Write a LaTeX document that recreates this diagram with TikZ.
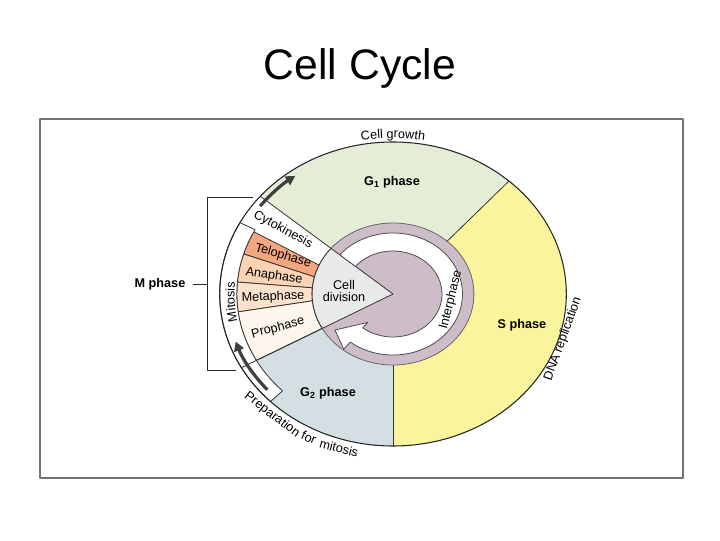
\documentclass[tikz,border=0pt]{standalone}
\usepackage{fontspec}
\setmainfont{Liberation Sans}
\usetikzlibrary{arrows.meta,decorations.text}
\definecolor{gone}{HTML}{E4EDD6}
\definecolor{sph}{HTML}{FAF59C}
\definecolor{gtwo}{HTML}{D3DFE2}
\definecolor{purp}{HTML}{CDBDC8}
\definecolor{wedgec}{HTML}{E8EAE9}
\definecolor{telo}{HTML}{F4A77F}
\definecolor{ana}{HTML}{FBD4B5}
\definecolor{meta}{HTML}{FCE2CC}
\definecolor{pro}{HTML}{FDF6EC}
\newcommand\labfont{\fontsize{9.5}{9.5}\selectfont}
\begin{document}
\begin{tikzpicture}[x=0.75pt,y=0.75pt,line join=round,
 lab/.style={font=\labfont,inner sep=0pt},
 blab/.style={font=\labfont\bfseries,inner sep=0pt},
 seg/.style={draw=black!80,line width=0.6pt},
 arr/.style={draw=black!75,line width=2.4pt,-{Triangle[length=7pt,width=7.5pt]}},
 curved/.style={decorate,decoration={text along path,text align=center,text={|\labfont|#1}}}]
\useasboundingbox (0,0) rectangle (720,540);
\node[font=\fontsize{32}{38}\selectfont] (title) at (360,472) {Cell Cycle};
\draw[black!55,line width=1pt] (40,62) rectangle (683,421);

\begin{scope}[shift={(393,246)}]
% main sectors
\fill[gone] (0,0) -- (48:173.3 and 152) arc[start angle=48,end angle=140,x radius=173.3,y radius=152] -- cycle;
\fill[sph] (0,0) -- (-90:173.3 and 152) arc[start angle=-90,end angle=48,x radius=173.3,y radius=152] -- cycle;
\fill[gtwo] (0,0) -- (209:173.3 and 152) arc[start angle=209,end angle=270,x radius=173.3,y radius=152] -- cycle;
\fill[white] (0,0) -- (140:173.3 and 152) arc[start angle=140,end angle=209,x radius=173.3,y radius=152] -- cycle;
% mitosis segments
\path[fill=telo,seg] (163:156.2 and 137) arc[start angle=163,end angle=153,x radius=156.2,y radius=137] -- (156:80.9 and 71) arc[start angle=156,end angle=166,x radius=80.9,y radius=71] -- cycle;
\path[fill=ana,seg] (175:156.2 and 137) arc[start angle=175,end angle=163,x radius=156.2,y radius=137] -- (166:80.9 and 71) arc[start angle=166,end angle=175,x radius=80.9,y radius=71] -- cycle;
\path[fill=meta,seg] (187.5:156.2 and 137) arc[start angle=187.5,end angle=175,x radius=156.2,y radius=137] -- (175:80.9 and 71) arc[start angle=175,end angle=185.5,x radius=80.9,y radius=71] -- cycle;
\path[fill=pro,seg] (209:156.2 and 137) arc[start angle=209,end angle=187.5,x radius=156.2,y radius=137] -- (185.5:80.9 and 71) arc[start angle=185.5,end angle=209,x radius=80.9,y radius=71] -- cycle;
% mitosis band
\path[fill=white,seg] (152:156.2 and 137) -- (152:173.3 and 152) arc[start angle=152,end angle=225,x radius=173.3,y radius=152] -- (225:156.2 and 137) arc[start angle=225,end angle=152,x radius=156.2,y radius=137] -- cycle;
% interphase rings
\path[fill=purp,draw=black!60,line width=0.6pt] (0,0) ellipse[x radius=80.9,y radius=71];
\path[fill=wedgec,seg] (0,0) -- (140:80.9 and 71) arc[start angle=140,end angle=209,x radius=80.9,y radius=71] -- cycle;
\path[fill=white,draw=black!70,line width=0.6pt]
  (140:69.5 and 61) arc[start angle=140,end angle=-128,x radius=69.5,y radius=61]
  -- (-128:80 and 70) -- (-58,-36) -- (-128:41 and 36) -- (-128:49 and 43)
  arc[start angle=-128,end angle=140,x radius=49,y radius=43] -- cycle;
% sector boundaries
\draw[seg] (48:80.9 and 71) -- (48:173.3 and 152);
\draw[seg] (270:80.9 and 71) -- (270:173.3 and 152);
\draw[seg] (140:80.9 and 71) -- (140:173.3 and 152);
\draw[seg] (209:80.9 and 71) -- (209:173.3 and 152);
\draw[black!85,line width=0.8pt] (0,0) ellipse[x radius=173.3,y radius=152];
% arrows
\draw[arr] (143:166.4 and 146) arc[start angle=143,end angle=126,x radius=166.4,y radius=146];
\draw[arr] (221:166.4 and 146) arc[start angle=221,end angle=199,x radius=166.4,y radius=146];
% curved texts (tops outward)
\path[curved={Cell growth}] (115:177.8 and 156) arc[start angle=115,end angle=65,x radius=177.8,y radius=156];
\path[curved={Mitosis}] (218:158.5 and 139) arc[start angle=218,end angle=148,x radius=158.5,y radius=139];
\end{scope}

% labels
\node[blab] (g1) at (392,358) {G\textsubscript{1} phase};
\node[blab] (sp) at (522,215) {S phase};
\node[blab] (g2) at (328,147) {G\textsubscript{2} phase};
\node[lab,align=center] (cd) at (344,249) {Cell\\division};
\node[lab,rotate=-28] (cyto) at (283,310) {Cytokinesis};
\node[lab,rotate=-16] (telo) at (283,284) {Telophase};
\node[lab,rotate=-8] (ana) at (274,264) {Anaphase};
\node[lab,rotate=2] (meta) at (273,243) {Metaphase};
\node[lab,rotate=15] (pro) at (278,212) {Prophase};
\node[lab,rotate=76] (inter) at (451,240) {Interphase};
\node[lab,rotate=70] (dna) at (563,201) {DNA replication};
\node[lab,rotate=-37] (prep1) at (272,125) {Preparation};
\node[lab,rotate=-24] (prep2) at (309,102.5) {for};
\node[lab,rotate=-15] (prep3) at (339,92) {mitosis};
\node[blab] (mph) at (160,256) {M phase};
% bracket
\coordinate (bt) at (253,343);
\coordinate (btl) at (207,343);
\coordinate (bbl) at (207,170);
\coordinate (bb) at (236,170);
\coordinate (tk) at (193,256);
\coordinate (tkm) at (207,256);
\draw[black!85,line width=0.7pt] (bt) -- (btl) -- (bbl) -- (bb);
\draw[black!85,line width=0.7pt] (tk) -- (tkm);
\end{tikzpicture}
\end{document}
